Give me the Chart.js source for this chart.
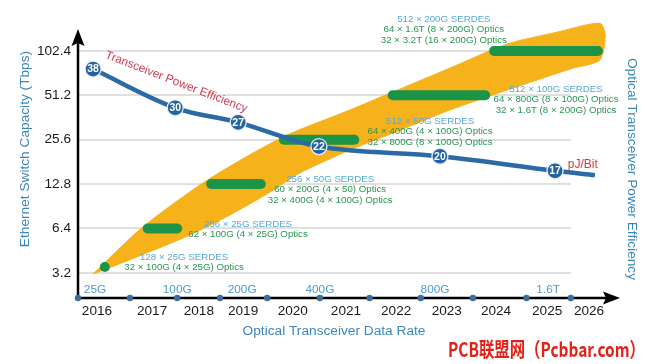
<!DOCTYPE html>
<html lang="en">
<head>
<meta charset="UTF-8">
<title>Ethernet switch capacity and transceiver power efficiency</title>
<script src="https://cdn.jsdelivr.net/npm/chart.js"></script>
<style>
  html, body { margin: 0; padding: 0; background: #fff; }
</style>
</head>
<body>
<canvas id="myChart" width="650" height="364"></canvas>
<script>
// x axis: years and the optical data rate marks under the curve
const years = ['2016', '2017', '2018', '2019', '2020', '2021', '2022', '2023', '2024', '2025', '2026'];
const yearAt = [2016.0, 2017.12, 2018.07, 2018.97, 2019.98, 2021.06, 2022.08, 2023.11, 2024.11, 2025.15, 2026.0];
const rateLabels = ['25G', '100G', '200G', '400G', '800G', '1.6T'];
const rateAt = [2015.96, 2017.63, 2018.95, 2020.53, 2022.87, 2025.17];
const rateDots = [2015.614, 2016.67, 2017.63, 2018.50, 2019.46, 2020.53, 2021.54, 2022.58, 2023.64, 2024.73, 2025.63];

// y axis: switch capacity in Tbps
const capTicks = [3.2, 6.4, 12.8, 25.6, 51.2, 102.4];
const capLabels = ['3.2', '6.4', '12.8', '25.6', '51.2', '102.4'];

// green bars: capacity generation and the years it spans
const capValue = [3.5, 6.4, 12.8, 25.6, 51.2, 102.4];
const capStart = [2016.159, 2017.03, 2018.32, 2019.80, 2022.01, 2024.07];
const capEnd = [2016.161, 2017.63, 2019.33, 2021.23, 2023.89, 2026.18];

// yellow band, upper edge left to right then lower edge right to left
const bandYear = [2015.92, 2016.93, 2018.24, 2019.78, 2021.14, 2021.96, 2023.17, 2024.33, 2025.35, 2026.22, 2026.33,
                  2026.22, 2025.67, 2024.33, 2023.17, 2022.16, 2021.14, 2020.12, 2019.52, 2018.70, 2017.89, 2016.81, 2015.92];
const bandTbps = [3.14, 6.54, 13.6, 26.7, 40.7, 53.0, 78.3, 113.9, 137.3, 158.0, 131.1,
                  88.7, 78.3, 55.5, 40.7, 29.7, 21.8, 15.2, 11.3, 7.89, 5.78, 4.10, 3.14];

// transceiver power efficiency, pJ/bit
const effYear = [2015.92, 2017.59, 2018.87, 2020.51, 2022.97, 2025.31, 2026.12];
const effValue = [38, 30, 27, 22, 20, 17, 16.1];
const effLabels = ['38', '30', '27', '22', '20', '17'];

// SERDES / optics notes
const notes = [
  ['128 × 25G SERDES', '32 × 100G (4 × 25G) Optics'],
  ['256 × 25G SERDES', '62 × 100G (4 × 25G) Optics'],
  ['256 × 50G SERDES', '60 × 200G (4 × 50) Optics', '32 × 400G (4 × 100G) Optics'],
  ['512 × 50G SERDES', '64 × 400G (4 × 100G) Optics', '32 × 800G (8 × 100G) Optics'],
  ['512 × 100G SERDES', '64 × 800G (8 × 100G) Optics', '32 × 1.6T (8 × 200G) Optics'],
  ['512 × 200G SERDES', '64 × 1.6T (8 × 200G) Optics', '32 × 3.2T (16 × 200G) Optics']
];
// where each note sits: [year, Tbps] of its first line
const noteAt = [[2017.77, 4.10], [2019.07, 6.85], [2020.74, 13.84], [2022.77, 34.2], [2025.33, 56.4], [2023.05, 168.2]];

const FONT = '"Liberation Sans", Arial, sans-serif';
Chart.defaults.font.family = FONT;

const ORANGE = '#f6b21b';
const GREEN = '#1b9447';
const BLUE = '#2b6aa5';

const yMin = 2.159, yMax = 179.1;

const extras = {
  id: 'extras',
  beforeDatasetsDraw(chart) {
    const { ctx, chartArea: a, scales: { x, y } } = chart;
    ctx.save();
    // grid lines
    ctx.strokeStyle = '#d4d4d4';
    ctx.lineWidth = 1.5;
    const gx = x.getPixelForValue(rateDots[rateDots.length - 1]);
    capTicks.forEach(v => {
      const py = Math.round(y.getPixelForValue(v));
      ctx.beginPath(); ctx.moveTo(a.left, py); ctx.lineTo(gx, py); ctx.stroke();
    });
    // axes with arrow heads
    const topY = y.getPixelForValue(102.4) - 22;
    ctx.strokeStyle = '#000';
    ctx.fillStyle = '#000';
    ctx.lineWidth = 2.5;
    ctx.beginPath();
    ctx.moveTo(a.left, a.bottom); ctx.lineTo(a.left, topY + 10);
    ctx.moveTo(a.left, a.bottom); ctx.lineTo(a.right - 10, a.bottom);
    ctx.stroke();
    ctx.beginPath();
    ctx.moveTo(a.left, topY); ctx.lineTo(a.left - 6.5, topY + 17); ctx.lineTo(a.left, topY + 14); ctx.lineTo(a.left + 6.5, topY + 17);
    ctx.closePath(); ctx.fill();
    ctx.beginPath();
    ctx.moveTo(a.right, a.bottom); ctx.lineTo(a.right - 17, a.bottom - 6.5); ctx.lineTo(a.right - 14, a.bottom); ctx.lineTo(a.right - 17, a.bottom + 6.5);
    ctx.closePath(); ctx.fill();
    ctx.restore();
  },
  afterDatasetsDraw(chart) {
    const { ctx, chartArea: a, scales: { x, y, eff } } = chart;
    ctx.save();
    ctx.textAlign = 'center';
    ctx.textBaseline = 'middle';

    // numbers in the efficiency markers
    const meta = chart.getDatasetMeta(0);
    ctx.font = 'bold 10.5px ' + FONT;
    ctx.fillStyle = '#fff';
    effLabels.forEach((t, i) => {
      const p = meta.data[i];
      ctx.fillText(t, p.x, p.y + 0.5);
    });

    // data rate labels above the x axis
    ctx.font = '11.8px ' + FONT;
    ctx.fillStyle = '#4f9bcc';
    rateLabels.forEach((t, i) => ctx.fillText(t, x.getPixelForValue(rateAt[i]), a.bottom - 8));

    // SERDES / optics notes
    ctx.font = '9.7px ' + FONT;
    notes.forEach((lines, i) => {
      const cx = x.getPixelForValue(noteAt[i][0]);
      const cy = y.getPixelForValue(noteAt[i][1]);
      lines.forEach((t, k) => {
        ctx.fillStyle = k === 0 ? '#58a8d6' : '#2a9553';
        ctx.fillText(t, cx, cy + k * 10.5);
      });
    });

    // efficiency curve labels
    ctx.save();
    ctx.translate(x.getPixelForValue(2017.61), y.getPixelForValue(63));
    ctx.rotate(21.2 * Math.PI / 180);
    ctx.font = '11.8px ' + FONT;
    ctx.fillStyle = '#d13b50';
    ctx.fillText('Transceiver Power Efficiency', 0, 0);
    ctx.restore();
    ctx.textAlign = 'left';
    ctx.font = '12px ' + FONT;
    ctx.fillStyle = '#d43a3a';
    ctx.fillText('pJ/Bit', x.getPixelForValue(2025.57), eff.getPixelForValue(18.2));

    // axis titles
    ctx.textAlign = 'center';
    ctx.font = '13.7px ' + FONT;
    ctx.fillStyle = '#3b86bb';
    ctx.fillText('Optical Transceiver Data Rate', 334, 331);
    ctx.save();
    ctx.translate(25, 149); ctx.rotate(-Math.PI / 2);
    ctx.fillText('Ethernet Switch Capacity (Tbps)', 0, 0);
    ctx.restore();
    ctx.save();
    ctx.translate(632, 169); ctx.rotate(Math.PI / 2);
    ctx.fillText('Optical Transceiver Power Efficiency', 0, 0);
    ctx.restore();

    // watermark
    ctx.save();
    ctx.font = 'bold 20px "Noto Sans CJK SC", sans-serif';
    ctx.fillStyle = '#e32119';
    ctx.textAlign = 'left';
    const wm = 'PCB联盟网（Pcbbar.com）';
    const w = ctx.measureText(wm).width;
    ctx.translate(448, 349);
    ctx.scale(197 / w, 1);
    ctx.fillText(wm, 0, 0);
    ctx.restore();

    ctx.restore();
  }
};

const datasets = [];
datasets.push({
  data: effYear.map((yr, i) => ({ x: yr, y: effValue[i] })),
  yAxisID: 'eff',
  borderColor: BLUE,
  borderWidth: 4.5,
  tension: 0.35,
  pointRadius: effValue.map((v, i) => i < effLabels.length ? 8 : 0),
  pointBackgroundColor: '#2363a2',
  pointBorderColor: '#e6eef7',
  pointBorderWidth: 1.3,
  order: 0,
  clip: false
});
capValue.forEach((v, i) => {
  datasets.push({
    data: [{ x: capStart[i], y: v }, { x: capEnd[i], y: v }],
    yAxisID: 'y',
    borderColor: GREEN,
    borderWidth: 10,
    borderCapStyle: 'round',
    pointRadius: 0,
    order: 1,
    clip: false
  });
});
datasets.push({
  data: rateDots.map(v => ({ x: v, y: yMin })),
  yAxisID: 'y',
  showLine: false,
  pointRadius: 3.2,
  pointBackgroundColor: '#3d6e9b',
  pointBorderWidth: 0,
  order: 1,
  clip: false
});
datasets.push({
  data: bandYear.map((yr, i) => ({ x: yr, y: bandTbps[i] })),
  yAxisID: 'y',
  borderColor: ORANGE,
  borderWidth: 1,
  backgroundColor: ORANGE,
  fill: 'shape',
  tension: 0.25,
  pointRadius: 0,
  order: 2,
  clip: false
});

new Chart(document.getElementById('myChart'), {
  type: 'line',
  data: { datasets: datasets },
  options: {
    responsive: false,
    animation: false,
    devicePixelRatio: 1,
    layout: { padding: { top: 15, right: 30, left: 0, bottom: 0 } },
    plugins: { legend: { display: false }, tooltip: { enabled: false } },
    scales: {
      x: {
        type: 'linear',
        min: 2015.614,
        max: 2026.63,
        afterBuildTicks: s => { s.ticks = yearAt.map(v => ({ value: v })); },
        afterFit: s => { s.height = 66; },
        ticks: {
          callback: (v, i) => years[i],
          font: { size: 13.6 },
          color: '#1a1a1a',
          padding: 5,
          maxRotation: 0,
          autoSkip: false
        },
        grid: { display: false, drawTicks: false },
        border: { display: false }
      },
      y: {
        type: 'logarithmic',
        position: 'left',
        min: yMin,
        max: yMax,
        afterBuildTicks: s => { s.ticks = capTicks.map(v => ({ value: v })); },
        afterFit: s => { s.width = 78; },
        ticks: {
          callback: (v, i) => capLabels[i],
          font: { size: 13.6 },
          color: '#1a1a1a',
          padding: 7,
          autoSkip: false
        },
        grid: { display: false, drawTicks: false },
        border: { display: false }
      },
      eff: {
        type: 'linear',
        position: 'right',
        display: false,
        min: -9.26,
        max: 49.12
      }
    }
  },
  plugins: [extras]
});
</script>
</body>
</html>
